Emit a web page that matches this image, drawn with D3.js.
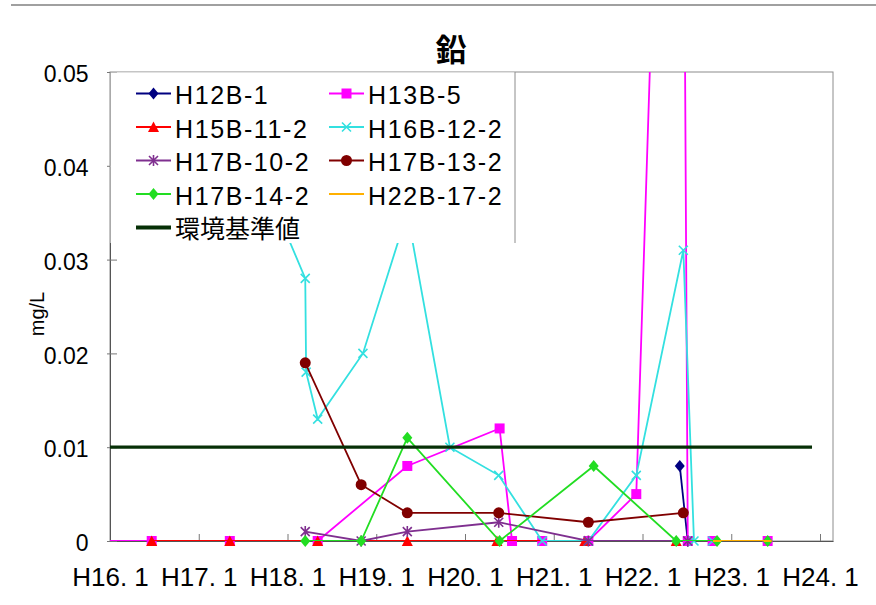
<!DOCTYPE html>
<html>
<head>
<meta charset="utf-8">
<script src="https://cdn.jsdelivr.net/npm/d3@7"></script>
<style>
  body { margin: 0; background: #fff; }
  svg { display: block; font-family: "Liberation Sans", Arial, sans-serif; }
</style>
</head>
<body>
<div id="chart"></div>
<script>
// 鉛 concentration per well, x = Heisei year (decimal), y = mg/L
const yearTicks = [16, 17, 18, 19, 20, 21, 22, 23, 24];
const valueTicks = [0, 0.01, 0.02, 0.03, 0.04, 0.05];

const h12b1   = [[22.42, 0.008], [22.51, 0]];
const h13b5   = [[15.8, 0], [16.47, 0], [17.35, 0], [18.34, 0], [19.35, 0.008], [20.39, 0.012],
                 [20.53, 0], [20.87, 0], [21.39, 0], [21.93, 0.005], [22.42, 0.15], [22.51, 0],
                 [22.79, 0], [23.41, 0]];
const h15b112 = [[16.47, 0], [17.35, 0], [18.34, 0], [19.35, 0], [20.36, 0], [21.35, 0], [22.38, 0]];
const h16b122 = [[17.35, 0.047], [18.2, 0.028], [18.21, 0.018], [18.34, 0.013], [18.85, 0.020],
                 [19.35, 0.035], [19.83, 0.010], [20.38, 0.007], [20.87, 0], [21.39, 0],
                 [21.93, 0.007], [22.46, 0.031], [22.58, 0], [22.79, 0]];
const h17b102 = [[18.2, 0.001], [18.83, 0], [19.35, 0.001], [20.38, 0.002], [21.39, 0], [22.51, 0]];
const h17b132 = [[18.2, 0.019], [18.83, 0.006], [19.35, 0.003], [20.38, 0.003], [21.39, 0.002], [22.46, 0.003]];
const h17b142 = [[18.2, 0], [18.83, 0], [19.35, 0.011], [20.39, 0], [21.45, 0.008], [22.38, 0],
                 [22.84, 0], [23.41, 0]];
const h22b172 = [[22.84, 0], [23.41, 0]];
const standard = [[16, 0.01], [23.91, 0.01]];

const series = [
  {name: "H12B-1",    data: h12b1,   color: "#000080", marker: "diamond"},
  {name: "H13B-5",    data: h13b5,   color: "#ff00ff", marker: "square"},
  {name: "H15B-11-2", data: h15b112, color: "#ff0000", marker: "triangle"},
  {name: "H16B-12-2", data: h16b122, color: "#33e0e0", marker: "x"},
  {name: "H17B-10-2", data: h17b102, color: "#7f2f8f", marker: "asterisk"},
  {name: "H17B-13-2", data: h17b132, color: "#800000", marker: "circle"},
  {name: "H17B-14-2", data: h17b142, color: "#22dd22", marker: "diamond"},
  {name: "H22B-17-2", data: h22b172, color: "#ffb000", marker: "dash"},
  {name: "環境基準値", data: standard, color: "#063006", marker: "none"}
];

const width = 876, height = 605,
      margin = ({top: 72, right: 43, bottom: 64, left: 110});

const svg = d3.select("#chart")
  .append("svg")
  .attr("width", width)
  .attr("height", height)
  .attr("viewBox", [0, 0, width, height]);

const x = d3.scaleLinear()
  .domain([16, 16 + (width - margin.right - margin.left) / 88.75])
  .range([margin.left, width - margin.right]);

const y = d3.scaleLinear()
  .domain([0, 0.05])
  .range([height - margin.bottom, margin.top]);

// top rule
svg.append("line")
  .attr("x1", 11).attr("x2", width)
  .attr("y1", 5).attr("y2", 5)
  .attr("stroke", "#a0a0a0").attr("stroke-width", 2);

// title
svg.append("text")
  .attr("x", 451).attr("y", 61)
  .attr("text-anchor", "middle")
  .style("font-family", "'Noto Sans CJK JP', sans-serif")
  .style("font-size", "31px")
  .style("font-weight", "bold")
  .text("鉛");

// plot frame
svg.append("rect")
  .attr("x", margin.left).attr("y", margin.top)
  .attr("width", width - margin.left - margin.right)
  .attr("height", height - margin.top - margin.bottom)
  .attr("fill", "#fff")
  .attr("stroke", "#8c8c8c");

const xAxis = g => g
  .attr("transform", `translate(0, ${y(0)})`)
  .call(d3.axisBottom(x)
    .tickValues(yearTicks)
    .tickSizeInner(-7).tickSizeOuter(0)
    .tickPadding(27)
    .tickFormat(d => `H${d}. 1`))
  .call(g => g.select(".domain").attr("stroke", "#555"))
  .call(g => g.selectAll(".tick line").attr("stroke", "#777"))
  .call(g => g.selectAll(".tick text").attr("fill", "#000").style("font-size", "26px"));

const yAxis = g => g
  .attr("transform", `translate(${margin.left}, 0)`)
  .call(d3.axisLeft(y)
    .tickValues(valueTicks)
    .tickSizeInner(-7).tickSizeOuter(0)
    .tickPadding(21.5)
    .tickFormat(d => d === 0 ? "0" : d.toFixed(2)))
  .call(g => g.select(".domain").attr("stroke", "#555"))
  .call(g => g.selectAll(".tick line").attr("x1", -3).attr("stroke", "#777"))
  .call(g => g.selectAll(".tick text").attr("fill", "#000").attr("dy", "0.42em").style("font-size", "23px"));

svg.append("g").call(xAxis);
svg.append("g").call(yAxis);

svg.append("text")
  .attr("transform", `translate(44, 314) rotate(-90)`)
  .attr("text-anchor", "middle")
  .style("font-size", "20px")
  .text("mg/L");

svg.append("clipPath").attr("id", "plot")
  .append("rect")
  .attr("x", margin.left).attr("y", margin.top)
  .attr("width", width - margin.left - margin.right)
  .attr("height", height - margin.top - margin.bottom);

const line = d3.line().x(d => x(d[0])).y(d => y(d[1]));

function drawMarker(g, type, color) {
  if (type === "square") {
    g.append("rect").attr("x", -5).attr("y", -5).attr("width", 10).attr("height", 10).attr("fill", color);
  } else if (type === "diamond") {
    g.append("path").attr("d", "M0,-6L5,0L0,6L-5,0Z").attr("fill", color);
  } else if (type === "triangle") {
    g.append("path").attr("d", "M0,-5.5L5.5,5L-5.5,5Z").attr("fill", color);
  } else if (type === "circle") {
    g.append("circle").attr("r", 5.5).attr("fill", color);
  } else if (type === "x") {
    g.append("path").attr("d", "M-4.5,-4.5L4.5,4.5M-4.5,4.5L4.5,-4.5").attr("stroke", color).attr("stroke-width", 1.6);
  } else if (type === "asterisk") {
    g.append("path").attr("d", "M-4.5,-4.5L4.5,4.5M-4.5,4.5L4.5,-4.5M0,-5.5L0,5.5").attr("stroke", color).attr("stroke-width", 1.6);
  } else if (type === "dash") {
    g.append("path").attr("d", "M-4,0L4,0").attr("stroke", color).attr("stroke-width", 2);
  }
}

for (let s of series) {
  const isStd = s.marker === "none";
  svg.append("path")
    .datum(s.data)
    .attr("clip-path", "url(#plot)")
    .attr("fill", "none")
    .attr("stroke", s.color)
    .attr("stroke-width", isStd ? 3.2 : 1.8)
    .attr("d", line);

  if (!isStd) {
    svg.selectAll(null)
      .data(s.data.filter(d => d[0] >= x.domain()[0] && d[1] <= y.domain()[1]))
      .join("g")
      .attr("transform", d => `translate(${x(d[0])}, ${y(d[1])})`)
      .each(function() { drawMarker(d3.select(this), s.marker, s.color); });
  }
}

// legend
const legend = svg.append("g");
legend.append("rect")
  .attr("x", margin.left + 0.5).attr("y", margin.top + 0.5)
  .attr("width", 515 - margin.left - 0.5).attr("height", 243 - margin.top - 0.5)
  .attr("fill", "#fff");
legend.append("line")
  .attr("x1", 515).attr("x2", 515)
  .attr("y1", margin.top).attr("y2", 243)
  .attr("stroke", "#8c8c8c");

const rowY = [93.5, 127, 160.5, 194, 227.5];
const colX = [136, 329];

series.forEach((s, i) => {
  const row = Math.floor(i / 2), col = i % 2;
  const g = legend.append("g")
    .attr("transform", `translate(${colX[col]}, ${rowY[row]})`);
  g.append("line")
    .attr("x1", 0).attr("x2", 35)
    .attr("stroke", s.color)
    .attr("stroke-width", s.marker === "none" ? 4 : 2);
  const m = g.append("g").attr("transform", "translate(17.5, 0)");
  drawMarker(m, s.marker, s.color);
  g.append("text")
    .attr("x", 39).attr("y", 2)
    .attr("dy", "0.35em")
    .style("font-size", "25px")
    .style("letter-spacing", s.marker === "none" ? "0px" : "1.6px")
    .style("font-family", s.marker === "none" ? "'Noto Sans CJK JP', sans-serif" : null)
    .text(s.name);
});
</script>
</body>
</html>
